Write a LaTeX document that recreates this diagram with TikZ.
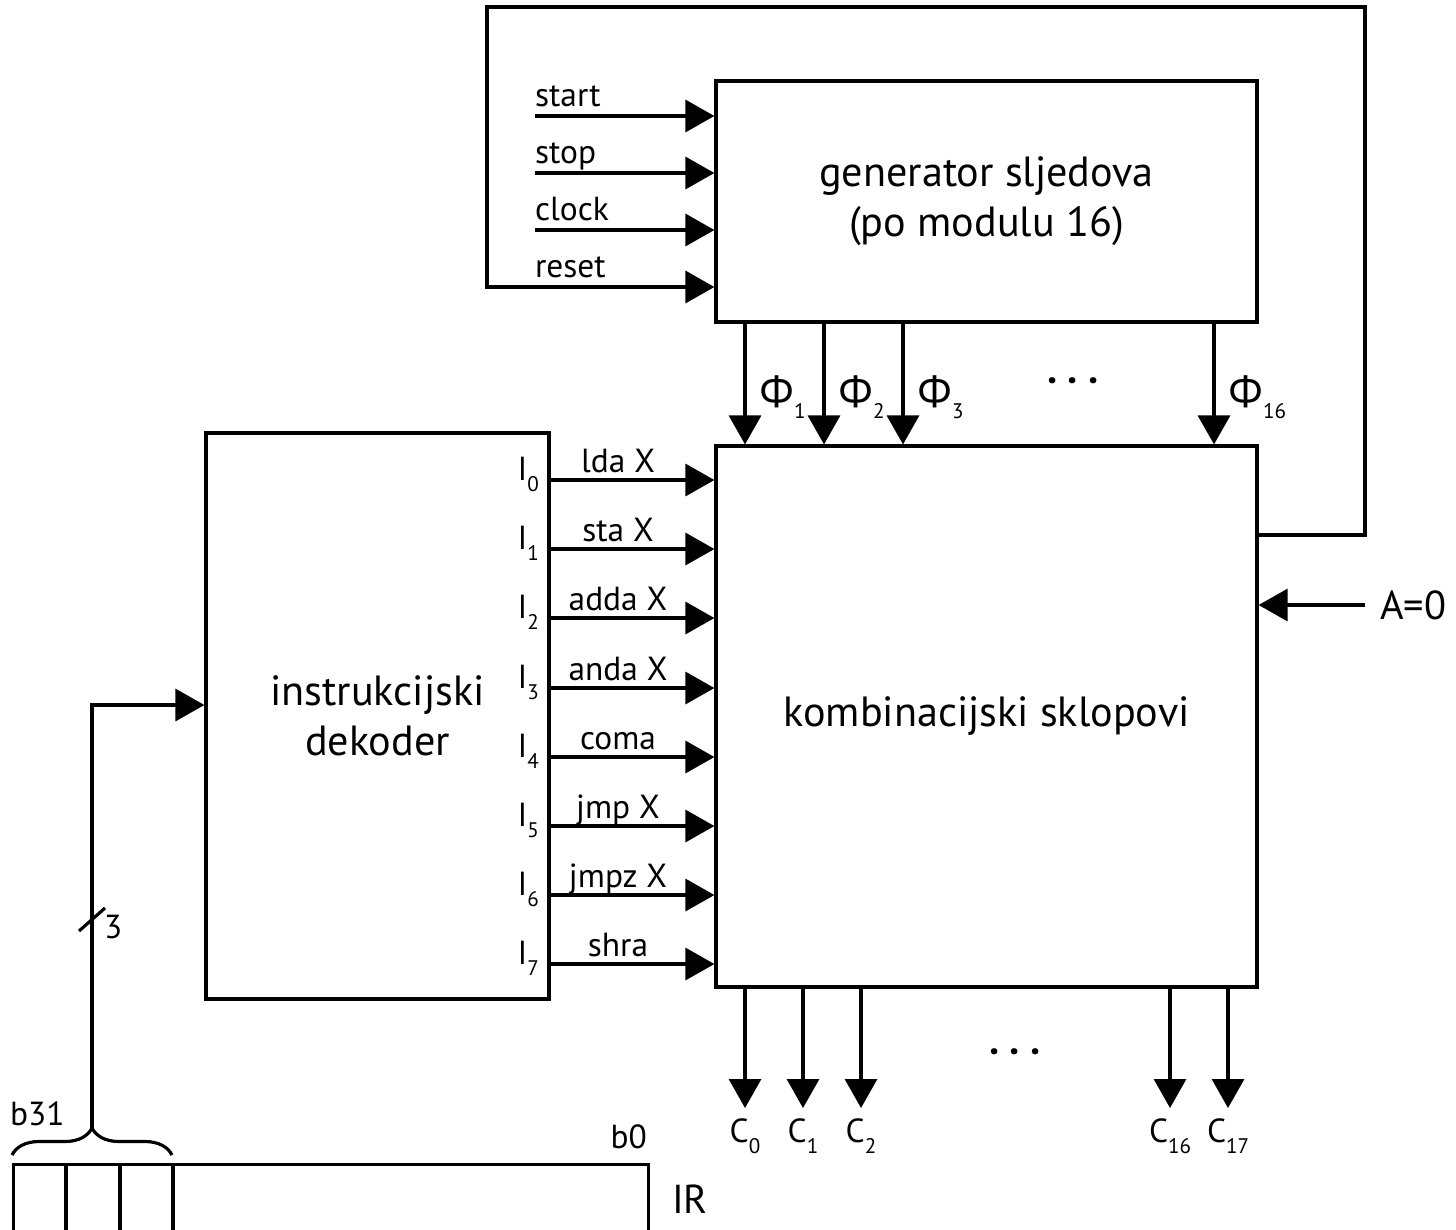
\documentclass[tikz,border=0pt]{standalone}
\usepackage{fontspec}
\setmainfont{PT Sans}
\newfontfamily\grfont{Open Sans}
\usetikzlibrary{arrows.meta,decorations.pathreplacing}
\newcommand{\lo}[1]{\raisebox{-3.4pt}{\fontsize{6}{6}\selectfont #1}}

\begin{document}
\begin{tikzpicture}[line width=0.9pt,
    box/.style={draw, minimum width=5.41cm, inner sep=0pt, align=center,
      font=\fontsize{12}{14.2}\selectfont},
    sig/.style={-{Triangle[length=0.29cm,width=0.32cm]}},
    lbl/.style={font=\fontsize{9.5}{11}\selectfont, inner sep=1pt},
    big/.style={font=\fontsize{11.5}{13}\selectfont, inner sep=1pt}]
\useasboundingbox (0,0) rectangle (14.56,-12.29);

% blokovi
\node[box, minimum height=2.41cm] (gen) at (9.865,-2.015) {generator sljedova\\(po modulu 16)};
\node[box, minimum height=5.41cm] (komb) at (9.865,-7.165) {kombinacijski sklopovi};
\node[box, minimum width=3.43cm, minimum height=5.66cm] (dek) at (3.775,-7.16) {instrukcijski\\dekoder};

% ulazi generatora
\foreach \t/\y in {start/1.16, stop/1.73, clock/2.30} {
  \coordinate (in-\t) at (5.35,-\y);
  \draw[sig] (in-\t) -- (gen.west |- in-\t);
  \node[lbl, anchor=base west] (l-\t) at (5.30,-\y+0.1) {\t};
}
\node[lbl, anchor=base west] (l-reset) at (5.30,-2.77) {reset};

% povratna veza
\coordinate (fb1) at (13.65,-5.35);
\coordinate (fb2) at (13.65,-0.07);
\coordinate (fb3) at (4.87,-0.07);
\coordinate (fb4) at (4.87,-2.87);
\draw[sig] (komb.east |- fb1) -- (fb1) -- (fb2) -- (fb3) -- (fb4) -- (gen.west |- fb4);

% faze
\foreach \x/\i in {7.45/1, 8.24/2, 9.03/3, 12.14/16} {
  \draw[sig] (gen.south -| \x,0) -- (komb.north -| \x,0);
  \node[anchor=base west, inner sep=1pt] (phi-\i) at (\x+0.09,-4.07)
    {{\grfont\fontsize{12.5}{14}\selectfont Φ}\lo{\i}};
}
\node[big] (dots1) at (10.73,-3.86) {\bfseries · · ·};

% instrukcije
\foreach \i/\t/\y in {0/lda X/4.80, 1/sta X/5.49, 2/adda X/6.18, 3/anda X/6.88,
                      4/coma/7.57, 5/jmp X/8.26, 6/jmpz X/8.95, 7/shra/9.64} {
  \draw[sig] (dek.east |- 0,-\y) -- (komb.west |- 0,-\y);
  \node[lbl, anchor=base] (t-\i) at (6.18,-\y+0.08) {\t};
  \node[lbl, anchor=base east] (i-\i) at (5.44,-\y) {I\lo{\i}};
}

% A=0
\coordinate (a0) at (13.65,-6.05);
\draw[sig] (a0) -- (komb.east |- a0);
\node[big, anchor=west] (l-a0) at (13.75,-6.05) {A=0};

% izlazi
\foreach \x/\i in {7.45/0, 8.03/1, 8.61/2, 11.70/16, 12.28/17} {
  \coordinate (ce-\i) at (\x,-11.08);
  \draw[sig] (komb.south -| \x,0) -- (ce-\i);
  \node[lbl, anchor=base] (c-\i) at (\x,-11.42) {C\lo{\i}};
}
\node[big] (dots2) at (10.15,-10.57) {\bfseries · · ·};

% registar IR
\node[draw, minimum width=6.35cm, minimum height=0.7cm, anchor=north west, inner sep=0pt] (ir) at (0.12,-11.63) {};
\foreach \x in {0.66, 1.20, 1.73}
  \draw (ir.north -| \x,0) -- (ir.south -| \x,0);
\node[lbl, anchor=base west] (b31) at (0.05,-11.25) {b31};
\node[lbl, anchor=base east] (b0) at (6.52,-11.48) {b0};
\node[big] (l-ir) at (6.90,-11.99) {IR};

\draw[decorate, decoration={brace, amplitude=0.27cm}] (0.12,-11.55) -- (1.72,-11.55);
\coordinate (tip) at (0.92,-11.28);
\draw[sig] (tip) |- (dek.west |- 0,-7.05);
\draw (0.79,-9.31) -- (1.05,-9.08);
\node[lbl, anchor=west] (w3) at (0.99,-9.27) {3};
\end{tikzpicture}
\end{document}
